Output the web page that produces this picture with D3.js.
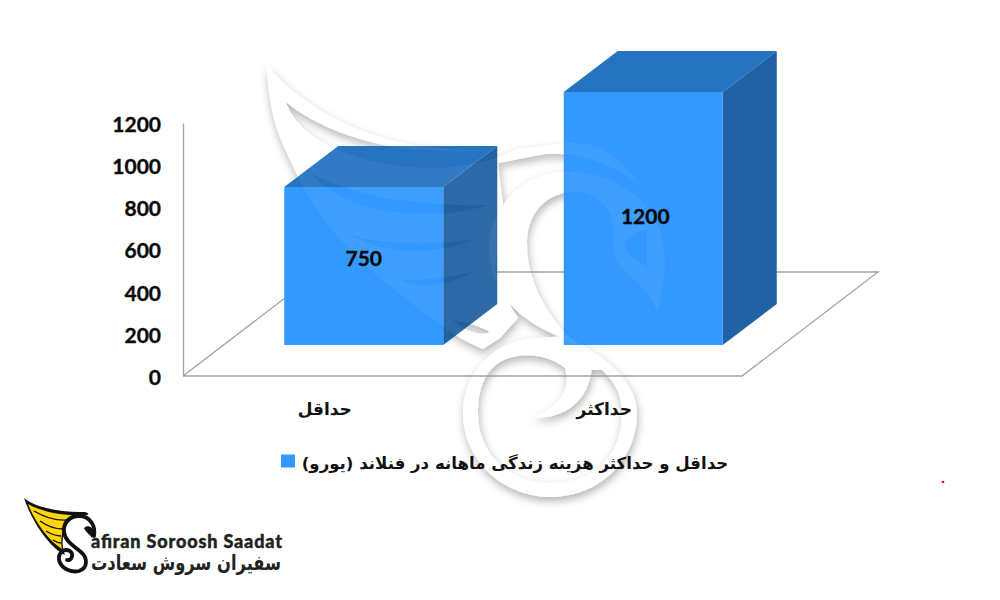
<!DOCTYPE html>
<html><head><meta charset="utf-8">
<script src="https://cdn.jsdelivr.net/npm/d3@7/dist/d3.min.js"></script>
<style>html,body{margin:0;background:#fff}svg{display:block}</style></head>
<body><svg id="c" width="1000" height="600"></svg>
<script>
const categories = ["حداقل","حداکثر"];
const values = [750,1200];
const tickValues = [0,200,400,600,800,1000,1200];
const seriesName = "حداقل و حداکثر هزینه زندگی ماهانه در فنلاند (یورو)";
const brandLatin = "afiran Soroosh Saadat";
const brandPersian = "سفیران سروش سعادت";

const svg = d3.select("#c");
const LAT = "Lato, 'Open Sans', sans-serif", FA = "'DejaVu Sans', sans-serif";
const x = d3.scaleBand().domain(categories).range([183,742]);
const y = d3.scaleLinear().domain([0,1200]).range([376,123]);

const defs = svg.append("defs");
const mkF=(id,dx,dy,sd,op)=>{const f=defs.append("filter").attr("id",id).attr("x","-20%").attr("y","-20%").attr("width","140%").attr("height","140%");
 f.append("feDropShadow").attr("dx",dx).attr("dy",dy).attr("stdDeviation",sd).attr("flood-color","#000").attr("flood-opacity",op);};
mkF("wm",1,4,4.5,.30); mkF("wmb",1,4,4.5,.24);

// watermark artwork (decorative emblem)
const ring="M540,338 C505,336 463,365 463,413 C463,462 505,497 550,497 C600,497 637,460 637,413 C637,380 600,352 565,336 Z M565,368 C550,355 520,350 500,362 C482,373 478,395 478,413 C478,455 510,483 550,483 C595,483 622,455 622,413 C622,390 610,375 592,362 C592,395 570,420 533,417 C555,410 572,392 565,368 Z";
const wing="M267,65 C295,100 350,135 420,146 C470,153 520,150 560,144 C590,138 620,155 637,182 C610,165 585,152 545,154 L498,163 L503,205 L495,270 L510,305 L518,318 L500,338 L483,349 C460,340 440,325 417,307 C385,283 350,255 327,223 C305,195 295,170 284,147 C272,120 268,95 267,65 Z"
 +" M286,102 C310,122 350,140 400,148 C440,153 480,152 520,148 C495,160 465,168 430,168 C370,168 300,145 286,102 Z"
 +" M310,173 C335,185 370,197 400,200 C430,204 460,206 487,205 C465,214 425,216 393,212 C360,208 330,195 310,173 Z"
 +" M348,233 C375,245 425,245 473,240 C440,254 385,258 348,233 Z"
 +" M400,279 C418,281 445,278 473,272 C450,285 420,291 400,279 Z"
 +" M453,320 C465,322 478,325 490,332 C480,336 465,332 453,320 Z";
const band="M658,312 C664,285 668,255 660,230 C645,190 600,170 565,172 C525,172 490,205 489,247 C489,285 510,312 545,330 C575,345 600,350 610,370 L592,370 C585,355 575,340 563,330 C545,310 527,280 527,243 C527,215 545,192 575,192 C595,192 610,205 613,225 C612,245 612,260 625,272 C640,283 650,295 658,312 Z M647,230 C632,232 622,240 626,250 C630,258 640,262 647,268 Z";
const drawWM=(g,fill,fo)=>{[ring,wing,band].forEach(d=>g.append("path").attr("d",d).attr("fill",fill).attr("fill-opacity",fo).attr("fill-rule","evenodd"));};

const bgWM = svg.append("g").attr("filter","url(#wm)");
drawWM(bgWM,"#fff",1);

// floor + axes
const dep={x:136,y:-104}, base=y(0), L=x.range()[0], R=x.range()[1];
svg.append("path").attr("fill","none").attr("stroke","#a3a3a3").attr("stroke-width",1.3)
 .attr("d",d3.line()([[L,base],[L+dep.x,base+dep.y],[R+dep.x,base+dep.y],[R,base],[L,base]]));

const yAxis = d3.axisLeft(y).tickValues(tickValues).tickSize(0).tickPadding(22).tickFormat(d3.format("d"));
const ga=svg.append("g").attr("transform",`translate(${L},0)`).call(yAxis);
ga.select(".domain").attr("stroke","#a3a3a3").attr("stroke-width",1.3);
ga.selectAll("text").attr("font-family",LAT).attr("font-weight",700).attr("font-size",21).attr("fill","#0a0a0a")
 .attr("stroke","#0a0a0a").attr("stroke-width",.35).attr("dy","0.4em");

// 3D bars
const fx=41, fy=-31, bw=159, bdx=54, bdy=-41;
const pts=(c,v)=>{const x0=x(c)+x.bandwidth()/2+fx-bw/2,x1=x0+bw,y0=y(0)+fy,y1=y(v)+fy;return{x0,x1,y0,y1};};
const bars=categories.map((c,i)=>({c,v:values[i],...pts(c,values[i])}));
const faces=b=>({
 front:[[b.x0,b.y1],[b.x1,b.y1],[b.x1,b.y0],[b.x0,b.y0]],
 top:[[b.x0,b.y1],[b.x0+bdx,b.y1+bdy],[b.x1+bdx,b.y1+bdy],[b.x1,b.y1]],
 side:[[b.x1,b.y1],[b.x1+bdx,b.y1+bdy],[b.x1+bdx,b.y0+bdy],[b.x1,b.y0]]});
const ln=p=>d3.line()(p)+"Z";
const barG=svg.append("g");
const clip=defs.append("clipPath").attr("id","barclip");
bars.forEach(b=>{const f=faces(b);
 barG.append("path").attr("d",ln(f.top)).attr("fill","#2673C1");
 barG.append("path").attr("d",ln(f.side)).attr("fill","#2062A3");
 barG.append("path").attr("d",ln(f.front)).attr("fill","#3399FF");
 ["top","side","front"].forEach(k=>clip.append("path").attr("d",ln(f[k])));
});
const over=svg.append("g").attr("clip-path","url(#barclip)").append("g").attr("filter","url(#wmb)");
drawWM(over,"#ffffff",.05);

// data labels
const labelDy=[-38,-33], labelDx=[0,2];
svg.append("g").selectAll("text").data(bars).join("text")
 .attr("x",(d,i)=>(d.x0+d.x1)/2+labelDx[i]).attr("y",(d,i)=>y(d.v/2)+labelDy[i]).attr("dy","0.35em")
 .attr("text-anchor","middle").attr("font-family",LAT).attr("font-weight",700).attr("font-size",21).attr("fill","#0a0a0a")
 .attr("stroke","#0a0a0a").attr("stroke-width",.35).text(d=>d.v);

// category labels
svg.append("g").selectAll("text").data(categories).join("text")
 .attr("x",d=>x(d)+x.bandwidth()/2+2).attr("y",415)
 .attr("text-anchor","middle").attr("direction","rtl").attr("font-family",FA).attr("font-weight",700).attr("font-size",17).attr("fill","#111").text(d=>d);

// legend
svg.append("rect").attr("x",281).attr("y",454.5).attr("width",14).attr("height",13).attr("fill","#3399FF");
svg.append("text").attr("x",515).attr("y",469).attr("text-anchor","middle").attr("direction","rtl")
 .attr("font-family",FA).attr("font-weight",700).attr("font-size",16.6).attr("fill","#111").text(seriesName);

// red dot
svg.append("circle").attr("cx",943).attr("cy",482).attr("r",1.3).attr("fill","#e01020");

// brand logo
const lg=svg.append("g");
lg.append("path").attr("d","M24,498 C32,506 60,513 85,512 C90,513 89,516 84,515 C74,516 66,522 64,532 C62,540 62,548 65,555 C50,548 32,522 24,498 Z").attr("fill","#111");
lg.append("path").attr("d","M28,504 C40,511 62,516 78,515 C69,519 63,526 62,534 C61,540 61,545 62,549 C48,540 35,522 28,504 Z").attr("fill","#FFD60A");
["M34,511 C44,517 56,521 68,520","M40,521 C47,526 56,529 63,529","M46,531 C51,534 56,536 61,536","M53,540 C56,542 58,543 61,543"].forEach(d=>
 lg.append("path").attr("d",d).attr("fill","none").attr("stroke","#111").attr("stroke-width",1.4));
lg.append("path").attr("d","M94,536 C96,526 90,516 79,516 C69,516 63,523 64,532 C65,541 74,546 81,552 C88,558 88,568 79,571 C70,573 61,568 59,560 C58,553 64,548 70,551 C74,554 72,561 67,560")
 .attr("fill","none").attr("stroke","#111").attr("stroke-width",3.8).attr("stroke-linecap","round");
lg.append("path").attr("d","M84,528 C88,524 93,527 94,533 L92,538 C90,534 86,533 84,528 Z").attr("fill","#111");
lg.append("text").attr("x",91).attr("y",547.5).attr("textLength",191).attr("lengthAdjust","spacing")
 .attr("font-family",LAT).attr("font-weight",900).attr("font-size",18).attr("fill","#222").attr("stroke","#222").attr("stroke-width",.4).text(brandLatin);
lg.append("text").attr("x",186).attr("y",570).attr("text-anchor","middle").attr("direction","rtl").attr("textLength",190).attr("lengthAdjust","spacingAndGlyphs")
 .attr("font-family",FA).attr("font-weight",700).attr("font-size",21).attr("fill","#222").text(brandPersian);
</script></body></html>
